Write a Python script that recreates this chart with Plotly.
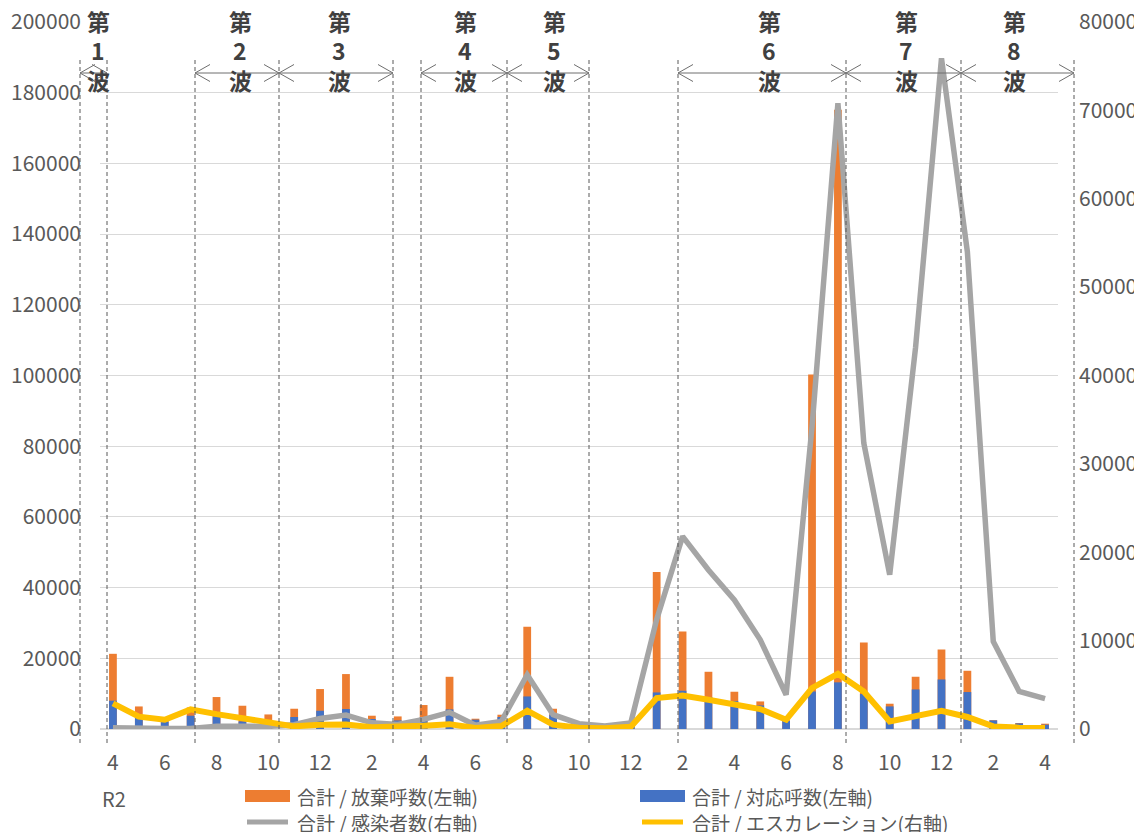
import plotly.graph_objects as go

# ---------------- data ----------------
categories = [
    "R2/4", "R2/5", "R2/6", "R2/7", "R2/8", "R2/9", "R2/10", "R2/11", "R2/12",
    "R3/1", "R3/2", "R3/3", "R3/4", "R3/5", "R3/6", "R3/7", "R3/8", "R3/9",
    "R3/10", "R3/11", "R3/12",
    "R4/1", "R4/2", "R4/3", "R4/4", "R4/5", "R4/6", "R4/7", "R4/8", "R4/9",
    "R4/10", "R4/11", "R4/12",
    "R5/1", "R5/2", "R5/3", "R5/4",
]
tick_labels = ["4", "6", "8", "10", "12", "2", "4", "6", "8", "10", "12",
               "2", "4", "6", "8", "10", "12", "2", "4"]

abandoned = [21270, 6380, 2500, 6100, 9040, 6580, 4120, 5730, 11300, 15540,
             3760, 3560, 6780, 14770, 2910, 4040, 28900, 5730, 1980, 1130, 1100,
             44400, 27570, 16190, 10540, 7800, 2500, 100300, 175150, 24470,
             7150, 14780, 22490, 16470, 2500, 1700, 1500]
handled = [8000, 3110, 2100, 3760, 3560, 2150, 1700, 3390, 5170, 5650,
           2830, 2430, 3390, 5540, 2630, 3390, 9210, 4040, 1900, 950, 900,
           10340, 10820, 9040, 7910, 6670, 2300, 10620, 13200, 9890,
           6390, 11190, 14010, 10450, 2430, 1580, 1215]
infected = [150, 50, 50, 60, 300, 300, 300, 480, 1200, 1570,
            700, 520, 1090, 1880, 420, 860, 6140, 1620, 600, 330, 680,
            12400, 21800, 18000, 14600, 10100, 3880, 34200, 70800, 32350,
            17450, 43200, 75900, 54000, 9910, 4250, 3430]
escalation = [2900, 1400, 1050, 2220, 1680, 1180, 720, 300, 490, 520,
              200, 200, 370, 550, 110, 330, 2070, 490, 150, 80, 250,
              3500, 3780, 3310, 2750, 2260, 1050, 4640, 6250, 4250,
              860, 1500, 2070, 1360, 290, 150, 110]

series_names = ["合計 / 放棄呼数(左軸)", "合計 / 対応呼数(左軸)",
                "合計 / 感染者数(右軸)", "合計 / エスカレーション(右軸)"]
wave_labels = ["1", "2", "3", "4", "5", "6", "7", "8"]

# ---------------- styling ----------------
FONT = "Noto Sans CJK JP"
C_ORANGE = "#ED7D31"
C_BLUE = "#4472C4"
C_GRAY = "#A5A5A5"
C_YELLOW = "#FFC000"
C_TEXT = "#595959"
C_DARK = "#404040"

O = 8                      # page body margin offset
W, H = 1142 - O, 832 - O
ML, MR, MT, MB = 100 - O, 84, 22 - O, 103
PW, PH = W - ML - MR, H - MT - MB


def xp(px):
    """picture pixel x -> paper x"""
    return (px - O - ML) / PW


def yp(py):
    """picture pixel y -> paper y"""
    return (H - MB - (py - O)) / PH


fig = go.Figure()
fig.add_trace(go.Bar(x=categories, y=abandoned, name=series_names[0],
                     marker=dict(color=C_ORANGE, line=dict(width=0)),
                     width=0.3, showlegend=False))
fig.add_trace(go.Bar(x=categories, y=handled, name=series_names[1],
                     marker=dict(color=C_BLUE, line=dict(width=0)),
                     width=0.3, showlegend=False))
fig.add_trace(go.Scatter(x=categories, y=infected, name=series_names[2],
                         mode="lines", line=dict(color=C_GRAY, width=5.5),
                         yaxis="y2", showlegend=False))
fig.add_trace(go.Scatter(x=categories, y=escalation, name=series_names[3],
                         mode="lines", line=dict(color=C_YELLOW, width=6),
                         yaxis="y2", showlegend=False))

tickfont = dict(family=FONT, size=21, color=C_TEXT)

fig.update_layout(
    width=W, height=H,
    margin=dict(l=ML, r=MR, t=MT, b=MB, autoexpand=False),
    paper_bgcolor="white", plot_bgcolor="white",
    barmode="overlay",
    font=dict(family=FONT, color=C_TEXT),
    xaxis=dict(type="category", categoryorder="array", categoryarray=categories,
               range=[-0.5, len(categories) - 0.5],
               tickvals=categories[::2], ticktext=tick_labels,
               showgrid=False, zeroline=False, showline=False, ticks="",
               tickfont=tickfont, ticklabelstandoff=19),
    yaxis=dict(range=[0, 200000.5], tickvals=list(range(0, 200001, 20000)),
               tickformat="d", ticklabeloverflow="allow",
               showgrid=True, gridcolor="#D9D9D9", gridwidth=1.3,
               zeroline=True, zerolinecolor="#D9D9D9", zerolinewidth=2,
               showline=False, ticks="", tickfont=tickfont,
               ticklabelstandoff=18),
    yaxis2=dict(range=[0, 80000.2], tickvals=list(range(0, 80001, 10000)),
                tickformat="d", ticklabeloverflow="allow",
                overlaying="y", side="right", showgrid=False, zeroline=False,
                showline=False, ticks="", tickfont=tickfont,
                ticklabelstandoff=20),
)

shapes = []
annotations = []

# dashed wave boundaries
for px in [80, 107, 195, 279, 393, 421, 507, 589, 678, 846, 961, 1074]:
    shapes.append(dict(type="line", xref="paper", yref="paper",
                       x0=xp(px), x1=xp(px), y0=yp(60), y1=yp(744),
                       line=dict(color="#595959", width=1, dash="4px,3px")))

# double-headed arrows for each wave (line + open chevrons)
ARROW_Y = 73
HW, HH = 15, 8.5
spans = [(80, 107), (195, 279), (279, 393), (421, 507), (507, 589),
         (678, 846), (846, 961), (961, 1074)]
arrow_line = dict(color="#6E6E6E", width=1)
for a, b in spans:
    shapes.append(dict(type="line", xref="paper", yref="paper",
                       x0=xp(a), x1=xp(b), y0=yp(ARROW_Y), y1=yp(ARROW_Y),
                       line=arrow_line))
    left = "M{},{} L{},{} L{},{}".format(
        xp(a + HW), yp(ARROW_Y - HH), xp(a), yp(ARROW_Y), xp(a + HW), yp(ARROW_Y + HH))
    right = "M{},{} L{},{} L{},{}".format(
        xp(b - HW), yp(ARROW_Y - HH), xp(b), yp(ARROW_Y), xp(b - HW), yp(ARROW_Y + HH))
    for p in (left, right):
        shapes.append(dict(type="path", xref="paper", yref="paper", path=p,
                           line=arrow_line))

# wave labels (three stacked lines: 第 / number / 波)
centers = [98, 240, 339, 465, 554, 769, 906, 1014]
wave_font = dict(family=FONT, size=23, color=C_DARK, weight="bold")
for cx, lab in zip(centers, wave_labels):
    for txt, cy in (("第", 21), (lab, 50), ("波", 80)):
        annotations.append(dict(
            xref="paper", yref="paper", x=xp(cx), y=yp(cy),
            xanchor="center", yanchor="middle", showarrow=False,
            text=txt, font=wave_font, borderpad=0))

# year label under the axis
annotations.append(dict(
    xref="paper", yref="paper", x=xp(100), y=yp(798),
    xanchor="left", yanchor="middle", showarrow=False, text="R2",
    font=dict(family=FONT, size=20, color=C_TEXT)))

# custom legend (Excel style, two columns)
legend_items = [
    (series_names[0], "bar", C_ORANGE, 245, 796),
    (series_names[1], "bar", C_BLUE, 640, 796),
    (series_names[2], "line", C_GRAY, 245, 822),
    (series_names[3], "line", C_YELLOW, 640, 822),
]
for name, kind, col, lx, ly in legend_items:
    if kind == "bar":
        shapes.append(dict(type="rect", xref="paper", yref="paper",
                           x0=xp(lx), x1=xp(lx + 45), y0=yp(ly - 6), y1=yp(ly + 6),
                           fillcolor=col, line=dict(width=0)))
    else:
        shapes.append(dict(type="line", xref="paper", yref="paper",
                           x0=xp(lx + 2), x1=xp(lx + 43), y0=yp(ly), y1=yp(ly),
                           line=dict(color=col, width=5)))
    annotations.append(dict(
        xref="paper", yref="paper", x=xp(lx + 51), y=yp(ly),
        xanchor="left", yanchor="middle", showarrow=False, text=name,
        font=dict(family=FONT, size=19, color=C_TEXT), borderpad=0))

fig.update_layout(shapes=shapes, annotations=annotations)

fig.write_html("out.html")
